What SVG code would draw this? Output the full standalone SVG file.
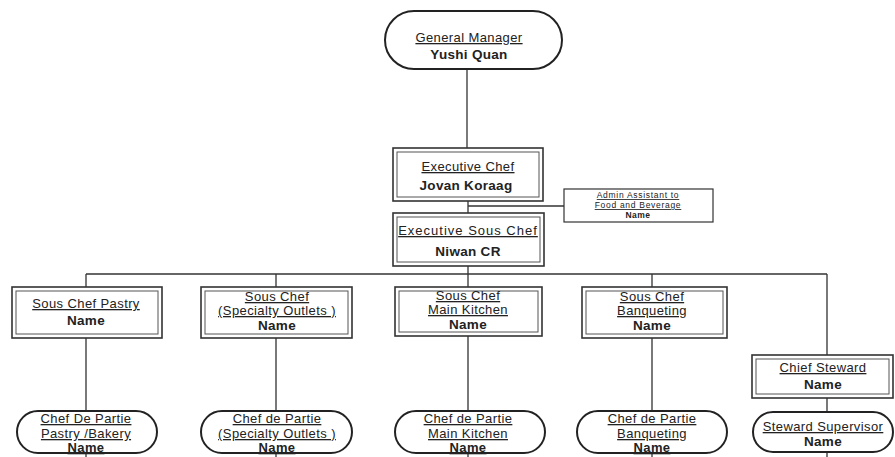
<svg xmlns="http://www.w3.org/2000/svg" width="895" height="457" viewBox="0 0 895 457">
<style>
.bg{fill:#fff}
.ln{stroke:#333;stroke-width:1.3;fill:none}
.ob{fill:#fff;stroke:#333;stroke-width:1.6}
.ib{fill:none;stroke:#555;stroke-width:1}
.pill{fill:#fff;stroke:#222;stroke-width:2}
.sb{fill:#fff;stroke:#333;stroke-width:1.2}
text{font-family:"Liberation Sans",Arial,sans-serif;fill:#222;text-anchor:middle}
.t{font-size:13px;letter-spacing:0.4px;text-decoration:underline}
.n{font-size:13.5px;font-weight:bold;letter-spacing:0.3px}
.s{font-size:8.5px;letter-spacing:0.7px;text-decoration:underline}
.sn{font-size:8.5px;font-weight:bold;letter-spacing:0.5px}
</style>
<rect class="bg" width="895" height="457"/>
<g id="connectors">
<path class="ln" d="M467 69V148"/>
<path class="ln" d="M468 201V213"/>
<path class="ln" d="M468 206H564"/>
<path class="ln" d="M468 266V274"/>
<path class="ln" d="M86 274H827"/>
<path class="ln" d="M86 274V287M276 274V287M468 274V287M652 274V287M827 274V355"/>
<path class="ln" d="M86 338V411M276 338V411M468 336V411M652 338V411M827 398V412"/>
<path class="ln" d="M86 453V457M276 453V457M468 453V457M652 453V457M827 452V457"/>
</g>
<g id="gm">
<rect class="pill" x="385" y="11" width="177" height="58" rx="29"/>
<text class="t" x="469" y="42" style="font-size:13px">General Manager</text>
<text class="n" x="469" y="59">Yushi Quan</text>
</g>
<g id="exec-chef">
<rect class="ob" x="393" y="148" width="150" height="53"/>
<rect class="ib" x="397" y="152" width="142" height="45"/>
<text class="t" x="468" y="171">Executive  Chef</text>
<text class="n" x="466" y="190">Jovan Koraag</text>
</g>
<g id="admin">
<rect class="sb" x="564" y="189" width="149" height="33"/>
<text class="s" x="638" y="198">Admin Assistant to</text>
<text class="s" x="638" y="208">Food and Beverage</text>
<text class="sn" x="638" y="218">Name</text>
</g>
<g id="exec-sous">
<rect class="ob" x="393" y="213" width="151" height="53"/>
<rect class="ib" x="397" y="217" width="143" height="45"/>
<text class="t" x="468" y="235" style="letter-spacing:1px">Executive  Sous  Chef</text>
<text class="n" x="468" y="256">Niwan CR</text>
</g>
<g id="sc-pastry">
<rect class="ob" x="12" y="287" width="150" height="51"/>
<rect class="ib" x="16" y="291" width="142" height="43"/>
<text class="t" x="86" y="308">Sous  Chef  Pastry</text>
<text class="n" x="86" y="325">Name</text>
</g>
<g id="sc-specialty">
<rect class="ob" x="201" y="287" width="151" height="51"/>
<rect class="ib" x="205" y="291" width="143" height="43"/>
<text class="t" x="277" y="301">Sous Chef</text>
<text class="t" x="277" y="315">(Specialty Outlets )</text>
<text class="n" x="277" y="330">Name</text>
</g>
<g id="sc-main">
<rect class="ob" x="395" y="287" width="147" height="49"/>
<rect class="ib" x="399" y="291" width="139" height="41"/>
<text class="t" x="468" y="300">Sous Chef</text>
<text class="t" x="468" y="314">Main Kitchen</text>
<text class="n" x="468" y="329">Name</text>
</g>
<g id="sc-banquet">
<rect class="ob" x="582" y="287" width="145" height="51"/>
<rect class="ib" x="586" y="291" width="137" height="43"/>
<text class="t" x="652" y="301">Sous Chef</text>
<text class="t" x="652" y="315">Banqueting</text>
<text class="n" x="652" y="330">Name</text>
</g>
<g id="chief-steward">
<rect class="ob" x="752" y="355" width="141" height="43"/>
<rect class="ib" x="756" y="359" width="133" height="35"/>
<text class="t" x="823" y="372">Chief Steward</text>
<text class="n" x="823" y="389">Name</text>
</g>
<g id="cdp-pastry">
<rect class="pill" x="17" y="411" width="140" height="42" rx="21"/>
<text class="t" x="86" y="423">Chef De Partie</text>
<text class="t" x="86" y="438">Pastry /Bakery</text>
<text class="t" x="86" y="452" style="font-weight:bold">Name</text>
</g>
<g id="cdp-specialty">
<rect class="pill" x="201" y="411" width="151" height="42" rx="21"/>
<text class="t" x="277" y="423">Chef de Partie</text>
<text class="t" x="277" y="438">(Specialty Outlets )</text>
<text class="t" x="277" y="452" style="font-weight:bold">Name</text>
</g>
<g id="cdp-main">
<rect class="pill" x="395" y="411" width="150" height="42" rx="21"/>
<text class="t" x="468" y="423">Chef de Partie</text>
<text class="t" x="468" y="438">Main Kitchen</text>
<text class="t" x="468" y="452" style="font-weight:bold">Name</text>
</g>
<g id="cdp-banquet">
<rect class="pill" x="577" y="411" width="150" height="42" rx="21"/>
<text class="t" x="652" y="423">Chef de Partie</text>
<text class="t" x="652" y="438">Banqueting</text>
<text class="t" x="652" y="452" style="font-weight:bold">Name</text>
</g>
<g id="steward-supervisor">
<rect class="pill" x="753" y="412" width="140" height="40" rx="20"/>
<text class="t" x="823" y="431">Steward Supervisor</text>
<text class="n" x="823" y="446">Name</text>
</g>
</svg>
